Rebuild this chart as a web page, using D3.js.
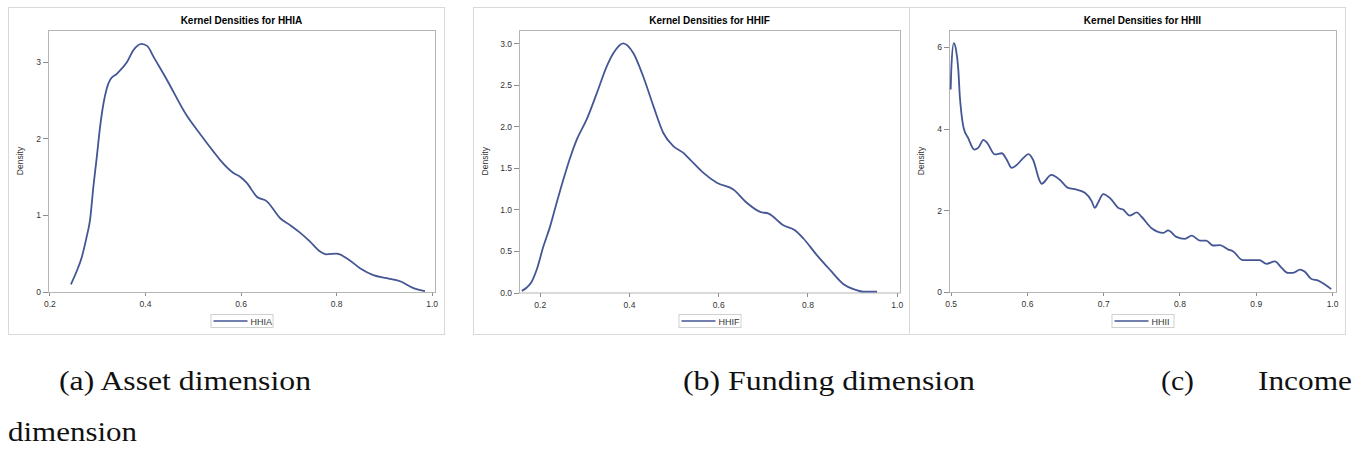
<!DOCTYPE html>
<html>
  <head>
    <script src="https://d3js.org/d3.v7.min.js"></script>
    <style>
      body { margin: 0; background: #fff; }
      .axis text {
        font-family: "Liberation Sans", Arial, sans-serif;
        font-size: 8.5px;
        fill: #333;
      }
      .axis line { stroke: #8c8c8c; shape-rendering: crispEdges; }
      .title {
        font-family: "Liberation Sans", Arial, sans-serif;
        font-size: 10px;
        font-weight: bold;
      }
      .caption {
        font-family: "Liberation Serif", "DejaVu Serif", serif;
        font-size: 28px;
        fill: #111;
      }
    </style>
  </head>
  <body>
    <script>

    // HHIA (asset dimension) kernel density
    const hhiaX = [0.245, 0.257, 0.268, 0.278, 0.285, 0.292, 0.299, 0.306, 0.313, 0.320, 0.327, 0.341,
      0.362, 0.376, 0.393, 0.405, 0.418, 0.446, 0.487, 0.515, 0.543, 0.557, 0.585, 0.599, 0.613, 0.634,
      0.655, 0.683, 0.704, 0.725, 0.745, 0.766, 0.780, 0.801, 0.822, 0.850, 0.878, 0.906, 0.934, 0.962, 0.986];
    const hhiaY = [0.10, 0.27, 0.46, 0.72, 0.94, 1.37, 1.75, 2.15, 2.45, 2.65, 2.76, 2.84,
      2.99, 3.15, 3.23, 3.20, 3.06, 2.76, 2.30, 2.06, 1.83, 1.72, 1.55, 1.50, 1.42, 1.24,
      1.18, 0.96, 0.87, 0.77, 0.66, 0.53, 0.49, 0.50, 0.44, 0.31, 0.22, 0.18, 0.14, 0.05, 0.01];

    // HHIF (funding dimension)
    const hhifX = [0.160, 0.171, 0.182, 0.193, 0.208, 0.223, 0.238, 0.253, 0.268, 0.283, 0.305, 0.328,
      0.350, 0.365, 0.387, 0.410, 0.432, 0.455, 0.477, 0.500, 0.522, 0.537, 0.567, 0.597, 0.634, 0.664,
      0.694, 0.713, 0.746, 0.772, 0.791, 0.821, 0.851, 0.881, 0.903, 0.926, 0.956];
    const hhifY = [0.02, 0.06, 0.13, 0.27, 0.55, 0.79, 1.08, 1.36, 1.62, 1.84, 2.08, 2.40,
      2.72, 2.88, 3.00, 2.88, 2.60, 2.24, 1.92, 1.76, 1.68, 1.60, 1.44, 1.32, 1.24, 1.08,
      0.97, 0.95, 0.81, 0.75, 0.65, 0.45, 0.27, 0.10, 0.04, 0.01, 0.01];

    // HHII (income dimension)
    const hhiiX = [0.500, 0.501, 0.504, 0.507, 0.510, 0.512, 0.514, 0.517, 0.523, 0.531, 0.536, 0.543,
      0.548, 0.558, 0.567, 0.573, 0.580, 0.587, 0.595, 0.602, 0.608, 0.617, 0.619, 0.632, 0.643, 0.654,
      0.665, 0.676, 0.685, 0.689, 0.693, 0.700, 0.709, 0.720, 0.726, 0.735, 0.744, 0.750, 0.763, 0.779,
      0.785, 0.796, 0.807, 0.816, 0.827, 0.835, 0.844, 0.853, 0.864, 0.870, 0.883, 0.892, 0.905, 0.914,
      0.925, 0.934, 0.942, 0.949, 0.958, 0.964, 0.973, 0.982, 0.991, 0.999];
    const hhiiY = [4.96, 5.53, 6.10, 5.94, 5.45, 4.79, 4.39, 4.02, 3.77, 3.49, 3.53, 3.73,
      3.65, 3.37, 3.40, 3.26, 3.04, 3.12, 3.28, 3.38, 3.24, 2.71, 2.65, 2.87, 2.75, 2.55,
      2.51, 2.43, 2.22, 2.06, 2.18, 2.40, 2.30, 2.06, 2.02, 1.87, 1.95, 1.85, 1.57, 1.45,
      1.51, 1.35, 1.30, 1.38, 1.26, 1.26, 1.14, 1.15, 1.04, 1.00, 0.78, 0.78, 0.78, 0.69,
      0.75, 0.59, 0.47, 0.47, 0.55, 0.50, 0.32, 0.28, 0.18, 0.07];

    const xTicksA = [0.2, 0.4, 0.6, 0.8, 1.0];
    const yTicksA = [0, 1, 2, 3];
    const xTicksB = [0.2, 0.4, 0.6, 0.8, 1.0];
    const yTicksB = [0, 0.5, 1.0, 1.5, 2.0, 2.5, 3.0];
    const xTicksC = [0.5, 0.6, 0.7, 0.8, 0.9, 1.0];
    const yTicksC = [0, 2, 4, 6];

    const captions = ['(a) Asset dimension', '(b) Funding dimension', '(c)', 'Income', 'dimension'];

    const width = 1366;
    const height = 457;
    const lineColor = '#445694';

    const panels = [
      { name: 'HHIA', xs: hhiaX, ys: hhiaY, xTicks: xTicksA, yTicks: yTicksA, yFmt: d3.format('d'),
        frame: [8, 7, 436, 327], plot: [48, 435, 30, 292], xDom: [0.197, 1.007], yDom: [0, 3.41] },
      { name: 'HHIF', xs: hhifX, ys: hhifY, xTicks: xTicksB, yTicks: yTicksB, yFmt: d3.format('.1f'),
        frame: [473, 7, 436, 327], plot: [519, 900, 30, 292.5], xDom: [0.1536, 1.0074], yDom: [0, 3.16] },
      { name: 'HHII', xs: hhiiX, ys: hhiiY, xTicks: xTicksC, yTicks: yTicksC, yFmt: d3.format('d'),
        frame: [909, 7, 436, 327], plot: [949, 1336, 30, 292], xDom: [0.4978, 1.0052], yDom: [0, 6.42] }
    ];

    const svg = d3.select('body')
      .append('svg')
      .attr('width', width)
      .attr('height', height);

    panels.forEach(p => {
      const [l, r, t, b] = p.plot;
      const xScale = d3.scaleLinear().domain(p.xDom).range([l, r]);
      const yScale = d3.scaleLinear().domain(p.yDom).range([b, t]);
      const cx = (l + r) / 2;

      // outer frame
      svg.append('rect')
        .attr('x', p.frame[0] + 0.5).attr('y', p.frame[1] + 0.5)
        .attr('width', p.frame[2]).attr('height', p.frame[3])
        .attr('fill', 'none').attr('stroke', '#d9d9d9');

      svg.append('text')
        .attr('class', 'title')
        .attr('x', cx).attr('y', 24)
        .attr('text-anchor', 'middle')
        .text('Kernel Densities for ' + p.name);

      const xAxis = d3.axisBottom(xScale).tickValues(p.xTicks).tickFormat(d3.format('.1f'))
        .tickSize(4).tickPadding(5);
      const yAxis = d3.axisLeft(yScale).tickValues(p.yTicks).tickFormat(p.yFmt)
        .tickSize(5).tickPadding(2);

      svg.append('g')
        .attr('class', 'axis')
        .attr('transform', `translate(0, ${b})`)
        .call(xAxis)
        .call(g => g.select('.domain').remove());

      svg.append('g')
        .attr('class', 'axis')
        .attr('transform', `translate(${l}, 0)`)
        .call(yAxis)
        .call(g => g.select('.domain').remove());

      // plot area border
      svg.append('rect')
        .attr('x', l + 0.5).attr('y', t + 0.5)
        .attr('width', r - l).attr('height', b - t)
        .attr('fill', 'none').attr('stroke', '#b5b5b5');

      svg.append('text')
        .attr('transform', `translate(${p.frame[0] + 15}, ${(t + b) / 2}) rotate(-90)`)
        .attr('text-anchor', 'middle')
        .style('font-family', '"Liberation Sans", Arial, sans-serif')
        .style('font-size', '8.5px')
        .attr('fill', '#333')
        .text('Density');

      const pts = p.xs.map((x, i) => ({ x, y: p.ys[i] }));
      const line = d3.line()
        .x(d => xScale(d.x))
        .y(d => yScale(d.y))
        .curve(d3.curveMonotoneX);

      svg.append('path')
        .datum(pts)
        .attr('d', line)
        .attr('fill', 'none')
        .attr('stroke', lineColor)
        .attr('stroke-width', 1.8)
        .attr('stroke-linejoin', 'round');

      // legend
      const lg = svg.append('g').attr('transform', `translate(${cx - 31}, 314)`);
      lg.append('rect')
        .attr('x', 0.5).attr('y', 0.5).attr('width', 62).attr('height', 13)
        .attr('fill', '#fff').attr('stroke', '#d0d0d0');
      lg.append('line')
        .attr('x1', 3).attr('x2', 37).attr('y1', 7).attr('y2', 7)
        .attr('stroke', lineColor).attr('stroke-width', 1.6);
      lg.append('text')
        .attr('x', 40).attr('y', 10.5)
        .style('font-family', '"Liberation Sans", Arial, sans-serif')
        .style('font-size', '9px')
        .attr('fill', '#333')
        .text(p.name);
    });

    // sub-figure captions
    const capPos = [
      { x: 59, y: 390, w: 252 },
      { x: 683, y: 390, w: 292 },
      { x: 1161, y: 390, w: 33 },
      { x: 1258, y: 390, w: 94 },
      { x: 8, y: 441, w: 129 }
    ];
    captions.forEach((c, i) => {
      svg.append('text')
        .attr('class', 'caption')
        .attr('x', capPos[i].x).attr('y', capPos[i].y)
        .attr('textLength', capPos[i].w)
        .attr('lengthAdjust', 'spacingAndGlyphs')
        .text(c);
    });

      </script>
  </body>
</html>
